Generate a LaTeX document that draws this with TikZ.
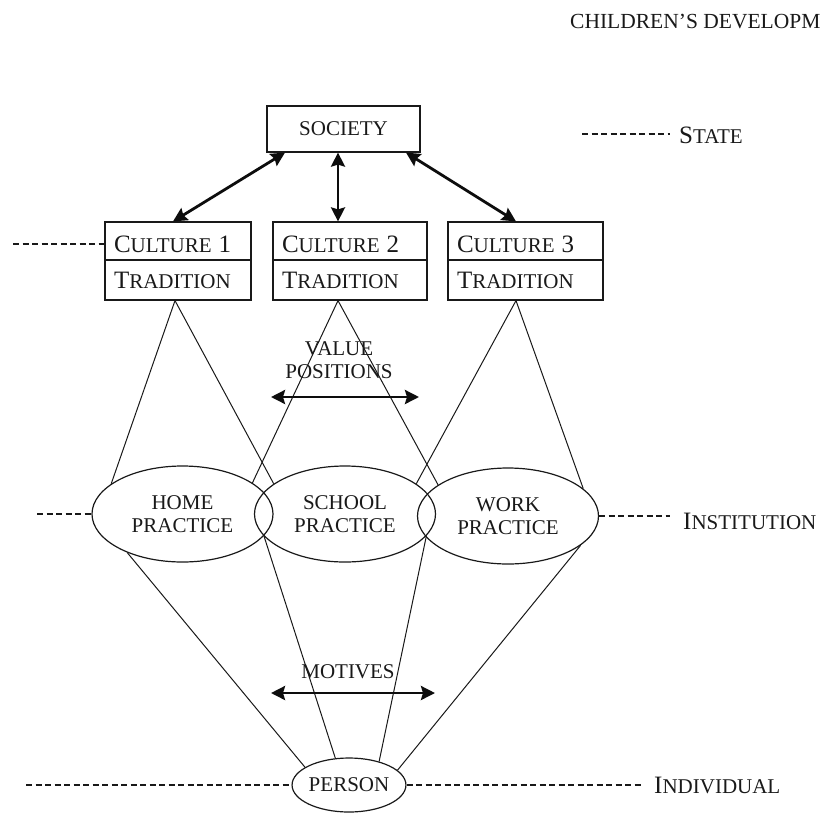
\documentclass[tikz,border=0pt]{standalone}
\usepackage{fontspec}
\setmainfont{Liberation Serif}
\usetikzlibrary{shapes.geometric,arrows.meta,calc}
\newcommand\BCx{\fontsize{25}{28}\selectfont}
\newcommand\SCx{\fontsize{21}{23}\selectfont}
\begin{document}
\begin{tikzpicture}[x=1pt,y=-1pt,
  every node/.style={font=\SCx, text=black!90},
  cbox/.style={draw=black!90, line width=1.2pt, minimum height=38pt, inner xsep=9pt, inner ysep=0pt, align=left, text height=22pt, text depth=0pt},
  tbox/.style={cbox, minimum height=40pt, text height=16pt},
  sbox/.style={draw=black!90, line width=1.2pt, minimum width=153pt, minimum height=46pt, inner sep=0pt},
  ell/.style={draw=black!90, ellipse, line width=1.2pt, minimum width=181pt, minimum height=96pt, inner sep=0pt, align=center},
  pell/.style={draw=black!90, ellipse, line width=1.2pt, minimum width=112pt, minimum height=54pt, inner sep=0pt},
  cone/.style={draw=black!90, line width=1pt},
  lead/.style={draw=black!90, line width=2pt, dash pattern=on 6pt off 3.5pt},
  dbl/.style={draw=black!95, line width=2.8pt, {Stealth[length=14pt,width=14pt,inset=2pt]}-{Stealth[length=14pt,width=14pt,inset=2pt]}},
  lbl/.style={anchor=base west, inner sep=0pt}]
\useasboundingbox (0,0) rectangle (821,812);

% header
\node[lbl, font=\fontsize{21.5}{24}\selectfont] (hdr) at (570,28) {CHILDREN’S DEVELOPM};

% society
\node[sbox] (society) at (343.5,129) {SOCIETY};
\node[lbl] (state) at (679,143) {{\BCx S}TATE};
\coordinate (st0) at (582,134);
\draw[lead] (st0) -- ([xshift=-9pt]state.west |- st0);

% culture boxes
\node[cbox, text width=128pt] (c1) at (178,241) {{\BCx C}ULTURE {\BCx 1}};
\node[tbox, text width=128pt] (t1) at (178,280) {{\BCx T}RADITION};
\node[cbox, text width=136pt] (c2) at (350,241) {{\BCx C}ULTURE {\BCx 2}};
\node[tbox, text width=136pt] (t2) at (350,280) {{\BCx T}RADITION};
\node[cbox, text width=137pt] (c3) at (525.5,241) {{\BCx C}ULTURE {\BCx 3}};
\node[tbox, text width=137pt] (t3) at (525.5,280) {{\BCx T}RADITION};

\coordinate (cl0) at (13,244);
\draw[lead] (cl0) -- (cl0 -| c1.west);

% arrows society - cultures
\draw[dbl] ([xshift=-58.5pt]society.south) -- ([xshift=-5pt]c1.north);
\draw[dbl] ([xshift=-5.5pt]society.south) -- ([xshift=-12pt]c2.north);
\draw[dbl] ([xshift=62.5pt]society.south) -- ([xshift=-9.5pt]c3.north);

% practices
\node[ell] (home) at (182.5,514) {HOME\\PRACTICE};
\node[ell] (school) at (345,514) {SCHOOL\\PRACTICE};
\node[ell] (work) at (508,516) {WORK\\PRACTICE};

% cones from traditions
\coordinate (a1) at ([xshift=-3pt]t1.south);
\coordinate (a2) at ([xshift=-12pt]t2.south);
\coordinate (a3) at ([xshift=-9.5pt]t3.south);
\draw[cone] (home.157) -- (a1) -- (school.157);
\draw[cone] (home.24) -- (a2) -- (work.156);
\draw[cone] (school.23) -- (a3) -- (work.20);

% value positions
\node[align=center] (vp) at (339,360) {VALUE\\POSITIONS};
\coordinate (va) at (271,397);
\coordinate (vb) at (419,397);
\draw[dbl] (va) -- (vb);

% person
\node[pell] (person) at (349,785) {PERSON};
\draw[cone] (home.215) -- (person.158);
\draw[cone] (home.-15) -- (person.117);
\draw[cone] (school.-15) -- (person.38);
\draw[cone] (work.-22) -- (person.17);

% motives
\node (mot) at (348,672) {MOTIVES};
\coordinate (ma) at (271,693);
\coordinate (mb) at (435,693);
\draw[dbl] (ma) -- (mb);

% institution level
\coordinate (hl0) at (37,514);
\draw[lead] (hl0) -- (home.west);
\node[lbl] (inst) at (683,529) {{\BCx I}NSTITUTION};
\draw[lead] (work.east) -- ([xshift=-13pt]inst.west |- work.east);

% individual level
\node[lbl] (indiv) at (654,793) {{\BCx I}NDIVIDUAL};
\coordinate (il0) at (26,785);
\draw[lead] (il0) -- (person.west);
\draw[lead] (person.east) -- ([xshift=-13pt]indiv.west |- person.east);
\end{tikzpicture}
\end{document}
